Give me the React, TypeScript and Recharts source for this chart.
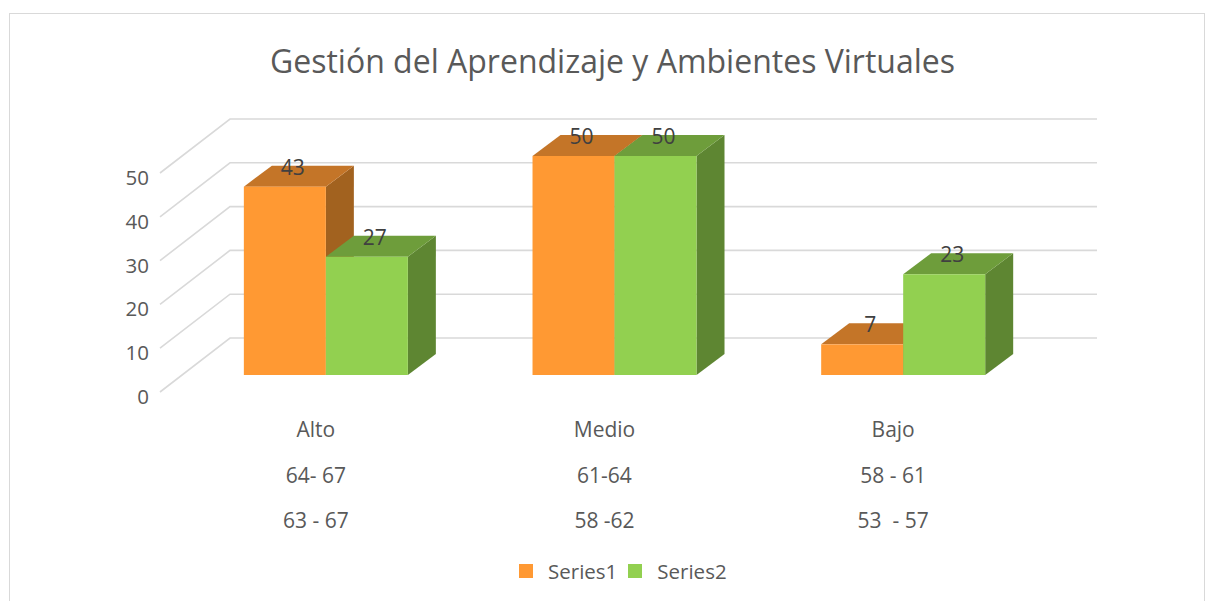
import { BarChart, Bar, XAxis, YAxis, CartesianGrid, LabelList } from "recharts";

const categories = ["Alto", "Medio", "Bajo"];
const rangeRow1 = ["64- 67", "61-64", "58 - 61"];
const rangeRow2 = ["63 - 67", "58 -62", "53  - 57"];
const series1 = [43, 50, 7];
const series2 = [27, 50, 23];
const yTicks = [0, 10, 20, 30, 40, 50];
const seriesNames = ["Series1", "Series2"];

const data = categories.map((name, i) => ({
  name,
  row1: rangeRow1[i],
  row2: rangeRow2[i],
  s1: series1[i],
  s2: series2[i],
}));

const FONT = "'Open Sans', sans-serif";
const TEXT = "#595959";
const GRID = "#D9D9D9";

const faces = {
  s1: { front: "#FF9933", top: "#C47528", side: "#A2621F" },
  s2: { front: "#92D050", top: "#6E9D3B", side: "#5E8632" },
};

// bar depth in px
const DX = 28;
const DY = 21;

const Box = (props: any) => {
  const { x, y, width: w, height: h, c } = props;
  if (w == null || h == null) return null;
  return (
    <g>
      <polygon
        points={`${x + w},${y} ${x + w + DX},${y - DY} ${x + w + DX},${y + h - DY} ${x + w},${y + h}`}
        fill={c.side}
      />
      <polygon
        points={`${x},${y} ${x + DX},${y - DY} ${x + w + DX},${y - DY} ${x + w},${y}`}
        fill={c.top}
      />
      <rect x={x} y={y} width={w} height={h} fill={c.front} />
    </g>
  );
};

const BarLabel = (props: any) => {
  const { x, y, width, value } = props;
  return (
    <text
      x={x + width / 2 + 8}
      y={y - 20}
      textAnchor="middle"
      dominantBaseline="central"
      fill="#404040"
      fontSize={21}
      fontFamily={FONT}
    >
      {value}
    </text>
  );
};

const XTick = (props: any) => {
  const { x, y, index, payload } = props;
  const rows = [payload.value, rangeRow1[index], rangeRow2[index]];
  return (
    <g>
      {rows.map((t, i) => (
        <text
          key={i}
          x={x - 10}
          y={y + 54 + i * 45.5}
          textAnchor="middle"
          dominantBaseline="central"
          fill={TEXT}
          fontSize={21}
          fontFamily={FONT}
          style={{ whiteSpace: "pre" }}
        >
          {t}
        </text>
      ))}
    </g>
  );
};

const YTick = (props: any) => {
  const { y, payload } = props;
  return (
    <text
      x={149}
      y={y + 21}
      textAnchor="end"
      dominantBaseline="central"
      fill={TEXT}
      fontSize={20.5}
      fontFamily={FONT}
    >
      {payload.value}
    </text>
  );
};

// 3D walls: left wall diagonal + back wall line
const GridLine = (p: any) => {
  const { x1, x2, y1, index } = p;
  const d = `M${x1 - 21.5},${y1 + 17} L${x1 + 48.5},${y1 - 37} L${x2 + 49.5},${y1 - 37}`;
  return <path key={"g" + index} d={d} stroke={GRID} strokeWidth={1.6} fill="none" />;
};

export default function App() {
  return (
    <div
      style={{
        position: "absolute",
        left: 0,
        top: 0,
        width: 1209,
        height: 601,
        background: "#fff",
        overflow: "hidden",
      }}
    >
      <div
        style={{
          position: "absolute",
          left: 9,
          top: 13,
          width: 1194,
          height: 600,
          border: `1px solid ${GRID}`,
        }}
      />
      <div
        style={{
          position: "absolute",
          left: 0,
          width: 1225,
          top: 38,
          textAlign: "center",
          fontFamily: FONT,
          fontSize: 32,
          color: TEXT,
          lineHeight: "46px",
        }}
      >
        Gestión del Aprendizaje y Ambientes Virtuales
      </div>
      <BarChart
        width={1209}
        height={601}
        data={data}
        margin={{ top: 156, right: 161.5, bottom: 0, left: 0 }}
        barCategoryGap="21.6%"
        barGap={0}
        style={{ position: "absolute", left: 0, top: 0 }}
      >
        <CartesianGrid vertical={false} horizontal={GridLine} />
        <XAxis
          dataKey="name"
          height={226}
          axisLine={false}
          tickLine={false}
          tickSize={0}
          tickMargin={0}
          interval={0}
          tick={<XTick />}
        />
        <YAxis
          width={181.5}
          domain={[0, 50]}
          ticks={yTicks}
          axisLine={false}
          tickLine={false}
          tickSize={0}
          tickMargin={0}
          interval={0}
          tick={<YTick />}
        />
        <Bar
          dataKey="s1"
          name={seriesNames[0]}
          isAnimationActive={false}
          shape={(p: any) => <Box {...p} c={faces.s1} />}
        >
          <LabelList dataKey="s1" content={<BarLabel />} />
        </Bar>
        <Bar
          dataKey="s2"
          name={seriesNames[1]}
          isAnimationActive={false}
          shape={(p: any) => <Box {...p} c={faces.s2} />}
        >
          <LabelList dataKey="s2" content={<BarLabel />} />
        </Bar>
      </BarChart>
      <div
        style={{
          position: "absolute",
          top: 559,
          left: 519,
          display: "flex",
          alignItems: "center",
          fontFamily: FONT,
          fontSize: 20.5,
          color: TEXT,
          height: 24,
        }}
      >
        {seriesNames.map((n, i) => (
          <div key={n} style={{ display: "flex", alignItems: "center", marginRight: i === 0 ? 11 : 0 }}>
            <span
              style={{
                width: 14,
                height: 14,
                background: i === 0 ? faces.s1.front : faces.s2.front,
                display: "inline-block",
                marginRight: 15,
              }}
            />
            <span>{n}</span>
          </div>
        ))}
      </div>
    </div>
  );
}
